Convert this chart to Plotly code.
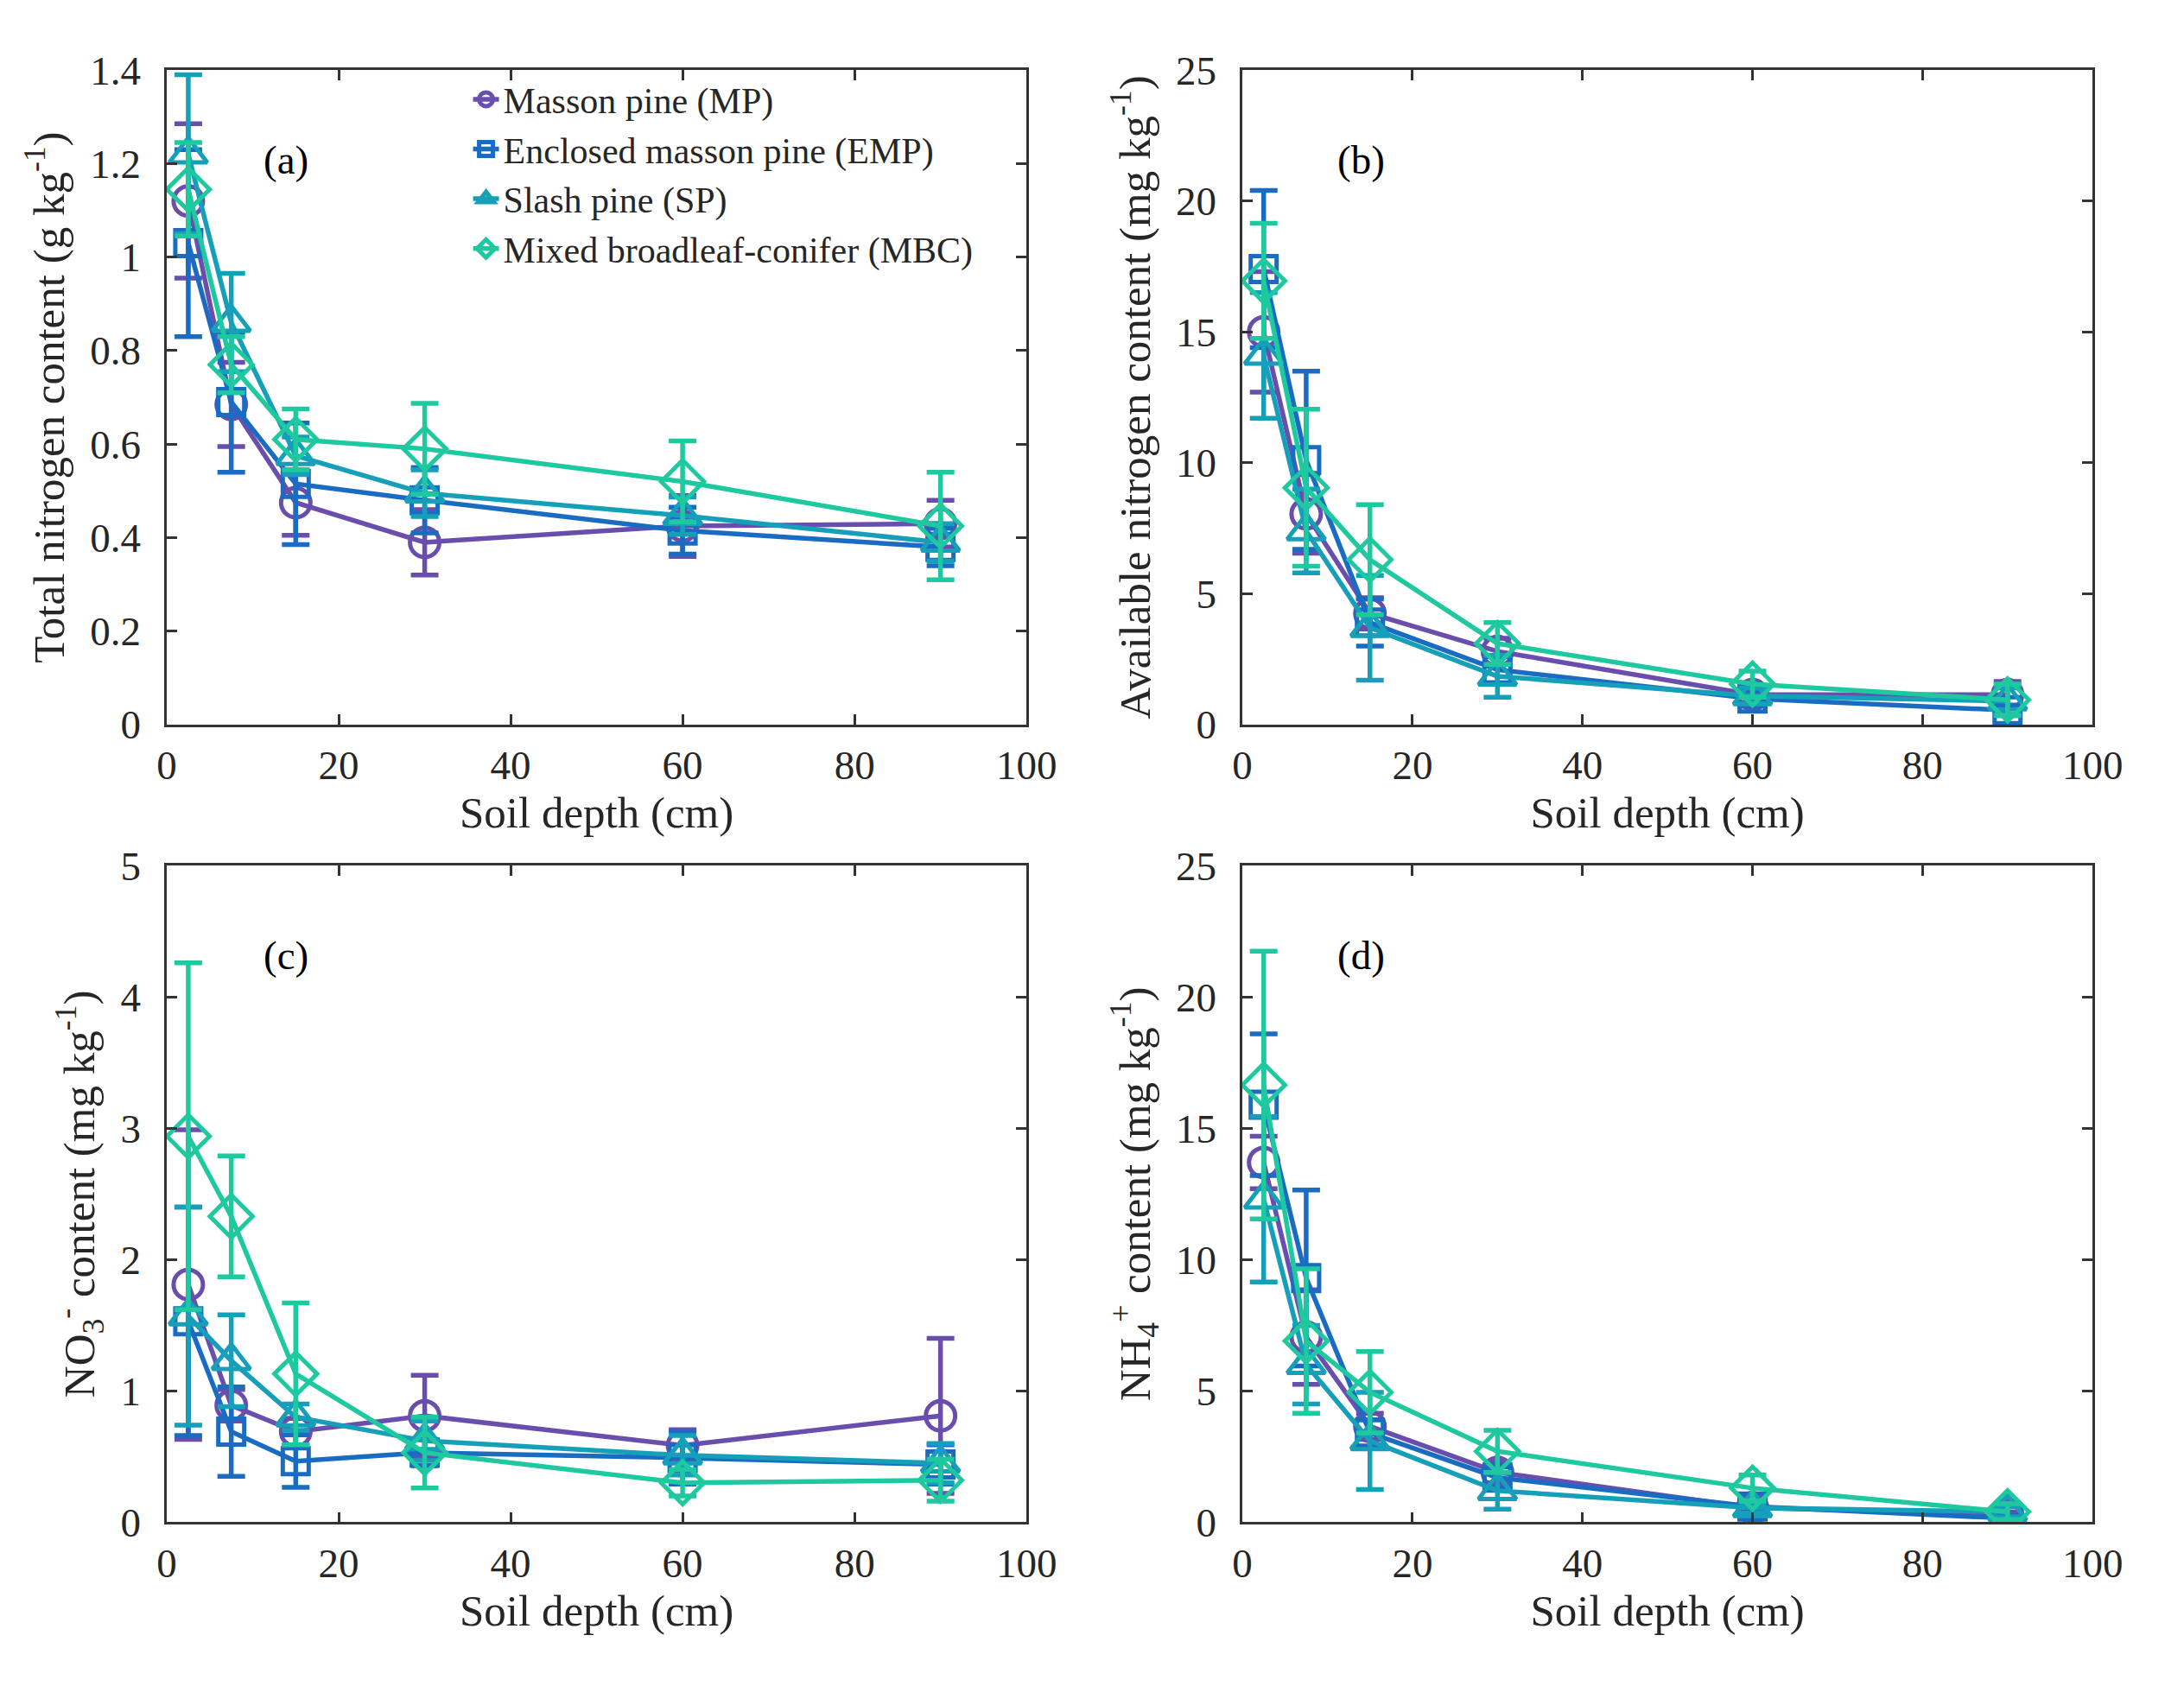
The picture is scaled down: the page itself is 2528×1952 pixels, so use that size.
import plotly.graph_objects as go

# soil depth midpoints (cm)
depth = [2.5, 7.5, 15, 30, 60, 90]

series_names = ["Masson pine (MP)", "Enclosed masson pine (EMP)",
                "Slash pine (SP)", "Mixed broadleaf-conifer (MBC)"]

# (a) total nitrogen, g/kg
tn_mp = [1.12, 0.685, 0.475, 0.39, 0.425, 0.43]
tn_mp_err = [0.165, 0.09, 0.07, 0.07, 0.065, 0.05]
tn_emp = [1.03, 0.69, 0.515, 0.48, 0.415, 0.38]
tn_emp_err = [0.2, 0.15, 0.13, 0.07, 0.05, 0.04]
tn_sp = [1.22, 0.86, 0.575, 0.495, 0.447, 0.39]
tn_sp_err = [0.17, 0.105, 0.04, 0.05, 0.04, 0.04]
tn_mbc = [1.145, 0.77, 0.61, 0.59, 0.52, 0.425]
tn_mbc_err = [0.1, 0.06, 0.065, 0.097, 0.087, 0.115]

# (b) available nitrogen, mg/kg
an_mp = [15.0, 8.05, 4.25, 2.8, 1.15, 1.15]
an_mp_err = [2.3, 1.5, 0.6, 0.5, 0.3, 0.5]
an_emp = [17.4, 10.1, 3.9, 2.1, 1.0, 0.55]
an_emp_err = [3.0, 3.4, 0.9, 0.5, 0.3, 0.2]
an_sp = [14.1, 7.4, 3.7, 1.85, 1.1, 0.9]
an_sp_err = [2.4, 1.6, 2.0, 0.8, 0.3, 0.5]
an_mbc = [16.95, 9.05, 6.3, 3.1, 1.55, 0.95]
an_mbc_err = [2.2, 3.0, 2.1, 0.8, 0.5, 0.6]

# (c) nitrate, mg/kg
no3_mp = [1.81, 0.89, 0.69, 0.81, 0.585, 0.81]
no3_mp_err = [1.18, 0.12, 0.1, 0.31, 0.12, 0.59]
no3_emp = [1.53, 0.69, 0.465, 0.53, 0.49, 0.44]
no3_emp_err = [0.87, 0.34, 0.2, 0.1, 0.2, 0.15]
no3_sp = [1.57, 1.23, 0.8, 0.62, 0.51, 0.45]
no3_sp_err = [0.83, 0.35, 0.1, 0.15, 0.15, 0.15]
no3_mbc = [2.94, 2.33, 1.13, 0.53, 0.3, 0.32]
no3_mbc_err = [1.32, 0.46, 0.54, 0.27, 0.1, 0.16]

# (d) ammonium, mg/kg
nh4_mp = [13.7, 7.05, 3.65, 1.9, 0.55, 0.3]
nh4_mp_err = [1.0, 1.8, 0.5, 0.4, 0.2, 0.1]
nh4_emp = [15.9, 9.3, 3.4, 1.7, 0.6, 0.15]
nh4_emp_err = [2.7, 3.35, 0.5, 0.4, 0.2, 0.1]
nh4_sp = [12.3, 6.0, 3.1, 1.2, 0.55, 0.4]
nh4_sp_err = [3.15, 1.5, 1.85, 0.7, 0.2, 0.2]
nh4_mbc = [16.65, 6.9, 4.95, 2.7, 1.3, 0.4]
nh4_mbc_err = [5.1, 2.75, 1.55, 0.8, 0.5, 0.3]

COLORS = ["#6a4eae", "#1a6cc2", "#169fb9", "#1fc9a0"]
SYMBOLS = ["circle-open", "square-open", "triangle-up-open", "diamond-open"]
SIZES = [34, 30, 38, 38]
FONT = "Liberation Serif"

panels = [
    ("x", "y", [(tn_mp, tn_mp_err), (tn_emp, tn_emp_err), (tn_sp, tn_sp_err), (tn_mbc, tn_mbc_err)]),
    ("x2", "y2", [(an_mp, an_mp_err), (an_emp, an_emp_err), (an_sp, an_sp_err), (an_mbc, an_mbc_err)]),
    ("x3", "y3", [(no3_mp, no3_mp_err), (no3_emp, no3_emp_err), (no3_sp, no3_sp_err), (no3_mbc, no3_mbc_err)]),
    ("x4", "y4", [(nh4_mp, nh4_mp_err), (nh4_emp, nh4_emp_err), (nh4_sp, nh4_sp_err), (nh4_mbc, nh4_mbc_err)]),
]

fig = go.Figure()
for p, (xa, ya, data) in enumerate(panels):
    for i, (vals, errs) in enumerate(data):
        fig.add_trace(go.Scatter(
            x=depth, y=vals, xaxis=xa, yaxis=ya, mode="lines+markers",
            name=series_names[i], showlegend=(p == 0),
            line=dict(color=COLORS[i], width=5.5),
            marker=dict(symbol=SYMBOLS[i], size=SIZES[i], color=COLORS[i],
                        line=dict(color=COLORS[i], width=5)),
            error_y=dict(type="data", array=errs, visible=True, color=COLORS[i],
                         thickness=5.5, width=16)))

xl, xr = [0.0702, 0.4739], [0.5753, 0.9745]
yt, yb = [0.5727, 0.975], [0.0826, 0.486]
axis_common = dict(showline=True, linecolor="#333333", linewidth=2.5, mirror="ticks",
                   ticks="inside", ticklen=12, tickwidth=2.5, tickcolor="#333333",
                   showgrid=False, zeroline=False,
                   tickfont=dict(family=FONT, size=47, color="#262626"),
                   title_font=dict(family=FONT, size=51, color="#262626"))

layout = dict(
    width=2512, height=1936, margin=dict(l=0, r=0, t=0, b=0),
    paper_bgcolor="white", plot_bgcolor="white",
    font=dict(family=FONT, color="#262626"),
    legend=dict(x=0.212, y=0.975, xanchor="left", yanchor="top",
                bgcolor="rgba(0,0,0,0)", font=dict(family=FONT, size=42, color="#262626"),
                tracegroupgap=0),
)

ytitles = ["Total nitrogen content (g kg<sup>-1</sup>)",
           "Available nitrogen content (mg kg<sup>-1</sup>)",
           "NO<sub>3</sub><sup>-</sup> content (mg kg<sup>-1</sup>)",
           "NH<sub>4</sub><sup>+</sup> content (mg kg<sup>-1</sup>)"]
yranges = [[0, 1.4], [0, 25], [0, 5], [0, 25]]
ydticks = [0.2, 5, 1, 5]
doms = [(xl, yt), (xr, yt), (xl, yb), (xr, yb)]

for k in range(4):
    sx = "" if k == 0 else str(k + 1)
    xd, yd = doms[k]
    layout["xaxis" + sx] = dict(axis_common, domain=xd, range=[0, 100], dtick=20,
                                anchor="y" + sx, ticklabelstandoff=4,
                                title=dict(text="Soil depth (cm)", standoff=12))
    layout["yaxis" + sx] = dict(axis_common, domain=yd, range=yranges[k], dtick=ydticks[k],
                                anchor="x" + sx, ticklabelstandoff=18,
                                title=dict(text=ytitles[k], standoff=14))

fig.update_layout(**layout)

for k, lab in enumerate(["(a)", "(b)", "(c)", "(d)"]):
    sx = "" if k == 0 else str(k + 1)
    fig.add_annotation(text=lab, xref="x" + sx + " domain", yref="y" + sx + " domain",
                       x=0.11, y=0.9, showarrow=False,
                       font=dict(family=FONT, size=47, color="black"))

fig.write_html("out.html")
